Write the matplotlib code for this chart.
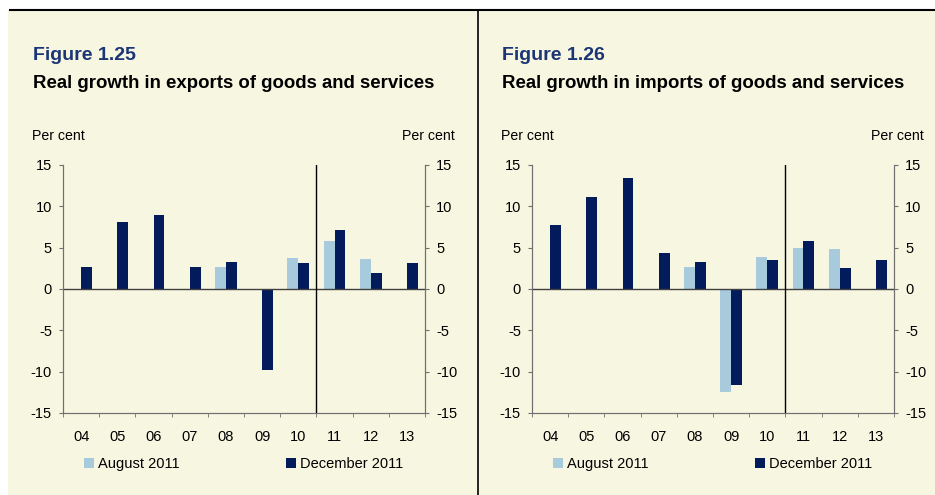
import numpy as np
import matplotlib
matplotlib.use('Agg')
import matplotlib.pyplot as plt
from matplotlib.patches import Rectangle, Patch
from matplotlib.lines import Line2D

years = ["04", "05", "06", "07", "08", "09", "10", "11", "12", "13"]

# exports, Figure 1.25 (nan = no bar)
exp_aug = [np.nan, np.nan, np.nan, np.nan, 2.7, np.nan, 3.8, 5.8, 3.6, np.nan]
exp_dec = [2.7, 8.1, 8.9, 2.7, 3.3, -9.8, 3.2, 7.1, 1.9, 3.2]

# imports, Figure 1.26
imp_aug = [np.nan, np.nan, np.nan, np.nan, 2.7, -12.5, 3.9, 4.9, 4.8, np.nan]
imp_dec = [7.7, 11.1, 13.4, 4.3, 3.3, -11.6, 3.5, 5.8, 2.5, 3.5]

fig_titles = ["Figure 1.25", "Figure 1.26"]
subtitles = ["Real growth in exports of goods and services",
             "Real growth in imports of goods and services"]
legend_labels = ["August 2011", "December 2011"]

LIGHT = "#a7cbdd"
DARK = "#021b5b"
CREAM = "#f7f6e1"
BLUE_TXT = "#1b3575"
GREY = "#707070"

plt.rcParams['font.family'] = ['Liberation Sans', 'DejaVu Sans']
plt.rcParams['axes.unicode_minus'] = False

W, H = 935, 495
fig = plt.figure(figsize=(W / 100, H / 100), dpi=100, facecolor="white")


def fx(px):
    return px / W


def fy(py):
    return 1 - py / H


# cream background and frame lines
fig.patches.append(Rectangle((fx(8), 0), 1 - fx(8), fy(10), transform=fig.transFigure,
                             facecolor=CREAM, edgecolor="none", zorder=-10))
fig.lines.append(Line2D([fx(10), 1], [fy(10), fy(10)], transform=fig.transFigure,
                        color="black", lw=1.5))
fig.lines.append(Line2D([fx(478), fx(478)], [fy(10), 0], transform=fig.transFigure,
                        color="black", lw=1.2))


def panel(x0, x1, title, subtitle, aug, dec):
    ax = fig.add_axes([fx(x0), fy(413), fx(x1 - x0), (413 - 165) / H])
    ax.set_facecolor("none")
    x = np.arange(len(years)) + 0.5
    bw = 0.3
    ax.bar(x - bw / 2, aug, width=bw, color=LIGHT, zorder=2)
    ax.bar(x + bw / 2, dec, width=bw, color=DARK, zorder=2)
    ax.set_xlim(0, len(years))
    ax.set_ylim(-15, 15)
    ax.axhline(0, color="#404040", lw=1, zorder=3)
    ax.axvline(7, color="black", lw=1, zorder=3)

    ax.set_xticks(x)
    ax.set_xticklabels(years)
    ax.set_xticks(np.arange(len(years) + 1), minor=True)
    ax.tick_params(axis="x", which="major", length=0, pad=12, labelsize=10.5)
    ax.tick_params(axis="x", which="minor", length=3, direction="out", color=GREY)
    ax.set_yticks(range(-15, 16, 5))
    ax.tick_params(axis="y", length=3, direction="out", color=GREY, pad=5, labelsize=10.5)
    for s in ["left", "right", "bottom"]:
        ax.spines[s].set_color(GREY)
    ax.spines["top"].set_visible(False)

    ax2 = ax.twinx()
    ax2.set_ylim(-15, 15)
    ax2.set_yticks(range(-15, 16, 5))
    ax2.tick_params(axis="y", length=3, direction="out", color=GREY, pad=5, labelsize=10.5)
    for s in ["left", "right", "bottom"]:
        ax2.spines[s].set_color(GREY)
    ax2.spines["top"].set_visible(False)

    tx = x0 - 30
    fig.text(fx(tx), fy(60), title, color=BLUE_TXT, fontsize=14, fontweight="bold",
             va="baseline", ha="left")
    fig.text(fx(tx), fy(88), subtitle, color="black", fontsize=13.4, fontweight="bold",
             va="baseline", ha="left")
    fig.text(fx(tx - 1), fy(140), "Per cent", fontsize=10.2, va="baseline", ha="left")
    fig.text(fx(x1 + 30), fy(140), "Per cent", fontsize=10.2, va="baseline", ha="right")

    handles = [Patch(facecolor=LIGHT, edgecolor="none"), Patch(facecolor=DARK, edgecolor="none")]
    fig.legend(handles, legend_labels, loc="center left",
               bbox_to_anchor=(fx(x0 + 21), fy(464)), ncol=2, frameon=False,
               fontsize=10.5, handlelength=0.7, handleheight=0.7, handletextpad=0.25,
               columnspacing=7.3, borderpad=0, borderaxespad=0)


panel(63, 425, fig_titles[0], subtitles[0], exp_aug, exp_dec)
panel(532, 894, fig_titles[1], subtitles[1], imp_aug, imp_dec)

fig.savefig("out.png", dpi=100, facecolor="white")
